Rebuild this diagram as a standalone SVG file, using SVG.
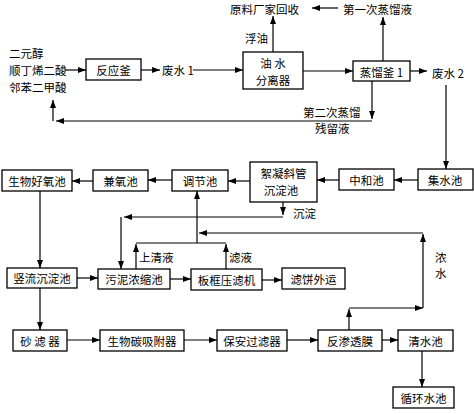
<svg xmlns="http://www.w3.org/2000/svg" width="474" height="414" viewBox="0 0 474 414">
<style>
.box{fill:#fff;stroke:#000;stroke-width:1.3}
.t{font-family:"Noto Sans CJK SC","Noto Sans",sans-serif;font-size:11.5px;fill:#000;dominant-baseline:central}
.c{text-anchor:middle}
.ln{fill:none;stroke:#000;stroke-width:1.2}
.ar{marker-end:url(#ah)}
</style>
<defs>
<marker id="ah" markerUnits="userSpaceOnUse" markerWidth="8" markerHeight="6" refX="8" refY="3" orient="auto">
<path d="M0,0 L8,3 L0,6 z" fill="#000"/>
</marker>
</defs>
<rect width="474" height="414" fill="#fff"/>
<g id="connectors">
<path class="ln ar" d="M65,70 H86"/>
<path class="ln ar" d="M141,70 H160"/>
<path class="ln ar" d="M193,70 H243"/>
<path class="ln ar" d="M303,71 H353"/>
<path class="ln ar" d="M273,52 V16"/>
<path class="ln ar" d="M383,61 V17"/>
<path class="ln ar" d="M338,8 H312"/>
<path class="ln ar" d="M410,71 H427"/>
<path class="ln ar" d="M372,81 V119"/>
<path class="ln ar" d="M372,121 H56"/>
<path class="ln ar" d="M53,121 V100"/>
<path class="ln ar" d="M446,85 V169"/>
<path class="ln ar" d="M418,180 H394"/>
<path class="ln ar" d="M339,180 H317"/>
<path class="ln ar" d="M250,181 H228"/>
<path class="ln ar" d="M172,180 H148"/>
<path class="ln ar" d="M93,181 H72"/>
<path class="ln ar" d="M283,202 V215"/>
<path class="ln ar" d="M283,217 H124"/>
<path class="ln ar" d="M121,217 V269"/>
<path class="ln ar" d="M136,269 V244"/>
<path class="ln ar" d="M226,269 V244"/>
<path class="ln" d="M136,243 H226"/>
<path class="ln ar" d="M197,243 V191"/>
<path class="ln ar" d="M423,233 H199"/>
<path class="ln ar" d="M423,308 V234"/>
<path class="ln ar" d="M349,330 V309"/>
<path class="ln ar" d="M349,308 H423"/>
<path class="ln ar" d="M40,191 V268"/>
<path class="ln ar" d="M77,278 H98"/>
<path class="ln ar" d="M170,279 H191"/>
<path class="ln ar" d="M262,280 H282"/>
<path class="ln ar" d="M40,288 V330"/>
<path class="ln ar" d="M67,340 H100"/>
<path class="ln ar" d="M184,340 H217"/>
<path class="ln ar" d="M287,340 H318"/>
<path class="ln ar" d="M382,340 H398"/>
<path class="ln ar" d="M422,351 V387"/>
</g>
<g id="labels">
<text class="t" x="9" y="53">二元醇</text>
<text class="t" x="9" y="70">顺丁烯二酸</text>
<text class="t" x="9" y="87">邻苯二甲酸</text>
<text class="t" x="162" y="70">废水 1</text>
<text class="t" x="245" y="38">浮油</text>
<text class="t" x="230" y="9">原料厂家回收</text>
<text class="t" x="343" y="9">第一次蒸馏液</text>
<text class="t" x="432" y="73">废水 2</text>
<text class="t" x="303" y="112">第二次蒸馏</text>
<text class="t" x="315" y="128">残留液</text>
<text class="t" x="293" y="213">沉淀</text>
<text class="t" x="139" y="257">上清液</text>
<text class="t" x="229" y="257">滤液</text>
<text class="t" x="435" y="257">浓</text>
<text class="t" x="435" y="273">水</text>
</g>
<g id="reactor"><rect class="box" x="86" y="59" width="55" height="21"/><text class="t c" x="113.5" y="70">反应釜</text></g>
<g id="oilsep"><rect class="box" x="243" y="52" width="60" height="37"/><text class="t c" x="273" y="63">油 水</text><text class="t c" x="273" y="80">分离器</text></g>
<g id="still1"><rect class="box" x="353" y="61" width="57" height="20"/><text class="t c" x="381.5" y="72">蒸馏釜 1</text></g>
<g id="jishui"><rect class="box" x="418" y="169" width="55" height="21"/><text class="t c" x="445" y="180">集水池</text></g>
<g id="zhonghe"><rect class="box" x="339" y="169" width="55" height="21"/><text class="t c" x="366.5" y="180">中和池</text></g>
<g id="xuning"><rect class="box" x="250" y="162" width="67" height="40"/><text class="t c" x="283.5" y="173">絮凝斜管</text><text class="t c" x="281" y="190">沉淀池</text></g>
<g id="tiaojie"><rect class="box" x="172" y="170" width="56" height="21"/><text class="t c" x="200" y="181">调节池</text></g>
<g id="jianyang"><rect class="box" x="93" y="170" width="55" height="21"/><text class="t c" x="120.5" y="181">兼氧池</text></g>
<g id="haoyang"><rect class="box" x="2" y="170" width="70" height="21"/><text class="t c" x="37" y="181">生物好氧池</text></g>
<g id="shuliu"><rect class="box" x="7" y="268" width="70" height="20"/><text class="t c" x="42" y="278">竖流沉淀池</text></g>
<g id="wuni"><rect class="box" x="98" y="269" width="72" height="20"/><text class="t c" x="134" y="279">污泥浓缩池</text></g>
<g id="bankuang"><rect class="box" x="191" y="269" width="71" height="21"/><text class="t c" x="226.5" y="280">板框压滤机</text></g>
<g id="lvbing"><rect class="box" x="282" y="268" width="63" height="21"/><text class="t c" x="313.5" y="279">滤饼外运</text></g>
<g id="shalv"><rect class="box" x="13" y="330" width="54" height="21"/><text class="t c" x="40" y="341">砂 滤 器</text></g>
<g id="shengwutan"><rect class="box" x="100" y="330" width="84" height="21"/><text class="t c" x="142" y="341">生物碳吸附器</text></g>
<g id="baoan"><rect class="box" x="217" y="330" width="70" height="21"/><text class="t c" x="252" y="341">保安过滤器</text></g>
<g id="fanshen"><rect class="box" x="318" y="330" width="64" height="21"/><text class="t c" x="350" y="341">反渗透膜</text></g>
<g id="qingshui"><rect class="box" x="398" y="330" width="55" height="21"/><text class="t c" x="425.5" y="341">清水池</text></g>
<g id="xunhuan"><rect class="box" x="393" y="387" width="61" height="21"/><text class="t c" x="423.5" y="398">循环水池</text></g>
</svg>
